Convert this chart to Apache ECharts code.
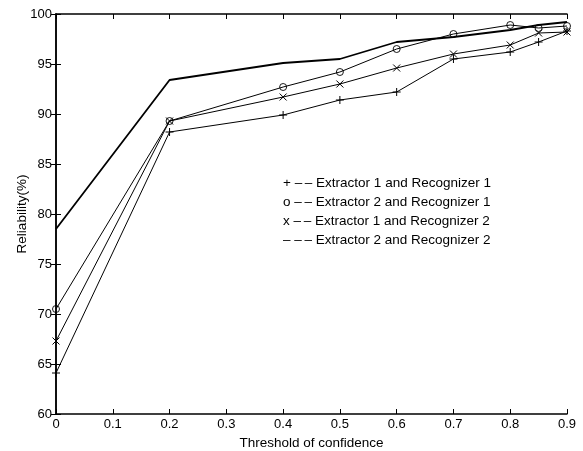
<!DOCTYPE html>
<html>
<head>
<meta charset="utf-8">
<script src="https://cdn.jsdelivr.net/npm/echarts@6/dist/echarts.min.js"></script>
<style>
  html, body { margin: 0; padding: 0; background: #fff; }
  #mainChart { width: 583px; height: 451px; }
</style>
</head>
<body>
<div id="mainChart"></div>
<script>
var legends = ['Extractor 1 and Recognizer 1', 'Extractor 2 and Recognizer 1',
               'Extractor 1 and Recognizer 2', 'Extractor 2 and Recognizer 2'];
var legendMarks = ['+', 'o', 'x', '\u2013'];

var xValues = [0, 0.2, 0.4, 0.5, 0.6, 0.7, 0.8, 0.85, 0.9];
var ext1rec1 = [64.1, 88.2, 89.9, 91.4, 92.2, 95.5, 96.2, 97.2, 98.3];
var ext2rec1 = [70.5, 89.3, 92.7, 94.2, 96.5, 98.0, 98.9, 98.6, 98.8];
var ext1rec2 = [67.3, 89.3, 91.7, 93.0, 94.6, 96.0, 96.9, 98.1, 98.2];
var ext2rec2 = [78.5, 93.4, 95.1, 95.5, 97.2, 97.7, 98.4, 98.9, 99.2];

var xTicks = ['0', '0.1', '0.2', '0.3', '0.4', '0.5', '0.6', '0.7', '0.8', '0.9'];

var plusPath = 'path://M0,5L10,5M5,0L5,10';
var crossPath = 'path://M0,0L10,10M10,0L0,10';

function pairs(ys) {
    var out = [];
    for (var i = 0; i < xValues.length; i++) {
        out.push([xValues[i], ys[i]]);
    }
    return out;
}

var myChart = echarts.init(document.getElementById('mainChart'));

var markerStyle = {color: '#000', borderColor: '#000', borderWidth: 1};
var series = [{
    name: legends[0],
    type: 'line',
    symbol: plusPath,
    symbolSize: 8,
    itemStyle: markerStyle,
    lineStyle: {color: '#000', width: 1},
    data: pairs(ext1rec1)
}, {
    name: legends[1],
    type: 'line',
    symbol: 'circle',
    symbolSize: 7,
    itemStyle: {color: 'rgba(0,0,0,0)', borderColor: '#000', borderWidth: 0.9},
    lineStyle: {color: '#000', width: 1},
    data: pairs(ext2rec1)
}, {
    name: legends[2],
    type: 'line',
    symbol: crossPath,
    symbolSize: 7,
    itemStyle: markerStyle,
    lineStyle: {color: '#000', width: 1},
    data: pairs(ext1rec2)
}, {
    name: legends[3],
    type: 'line',
    symbol: 'none',
    lineStyle: {color: '#000', width: 1.8},
    data: pairs(ext2rec2)
}];

var axisFont = {fontFamily: 'Liberation Sans', fontSize: 13, color: '#000'};
var nameFont = {fontFamily: 'Liberation Sans', fontSize: 13.5, color: '#000'};

myChart.setOption({
    animation: false,
    backgroundColor: '#fff',
    grid: {left: 56, right: 16, top: 14, bottom: 37, outerBoundsMode: 'none', containLabel: false},
    legend: {
        data: legends,
        orient: 'vertical',
        left: 273,
        top: 171,
        icon: 'none',
        itemWidth: 0,
        itemHeight: 0,
        itemGap: 5,
        selectedMode: false,
        textStyle: {fontFamily: 'Liberation Sans', fontSize: 13.5, color: '#000'},
        formatter: function (name) {
            return legendMarks[legends.indexOf(name)] + ' \u2013\u2009\u2013 ' + name;
        }
    },
    xAxis: [{
        type: 'value',
        min: 0,
        max: 0.9,
        interval: 0.1,
        name: 'Threshold of confidence',
        nameLocation: 'middle',
        nameGap: 22,
        nameTextStyle: nameFont,
        axisLine: {lineStyle: {color: '#000', width: 1.5}},
        axisTick: {inside: true, length: 5, lineStyle: {color: '#000'}},
        axisLabel: Object.assign({margin: 4, formatter: function (v) {
            return xTicks[Math.round(v * 10)];
        }}, axisFont),
        splitLine: {show: false}
    }, {
        type: 'value',
        position: 'top',
        min: 0,
        max: 0.9,
        interval: 0.1,
        axisLine: {lineStyle: {color: '#000', width: 1.5}},
        axisTick: {inside: true, length: 5, lineStyle: {color: '#000'}},
        axisLabel: {show: false},
        splitLine: {show: false}
    }],
    yAxis: [{
        type: 'value',
        min: 60,
        max: 100,
        interval: 5,
        name: 'Reliability(%)',
        nameLocation: 'middle',
        nameGap: 27,
        nameMoveOverlap: false,
        nameTextStyle: nameFont,
        axisLine: {show: true, lineStyle: {color: '#000', width: 1.5}},
        axisTick: {show: true, inside: true, length: 5, lineStyle: {color: '#000'}},
        axisLabel: Object.assign({margin: 4}, axisFont),
        splitLine: {show: false}
    }, {
        type: 'value',
        position: 'right',
        min: 60,
        max: 100,
        interval: 5,
        axisLine: {show: true, lineStyle: {color: '#000', width: 1.5}},
        axisTick: {show: true, inside: true, length: 5, lineStyle: {color: '#000'}},
        axisLabel: {show: false},
        splitLine: {show: false}
    }],
    series: series
});
</script>
</body>
</html>
